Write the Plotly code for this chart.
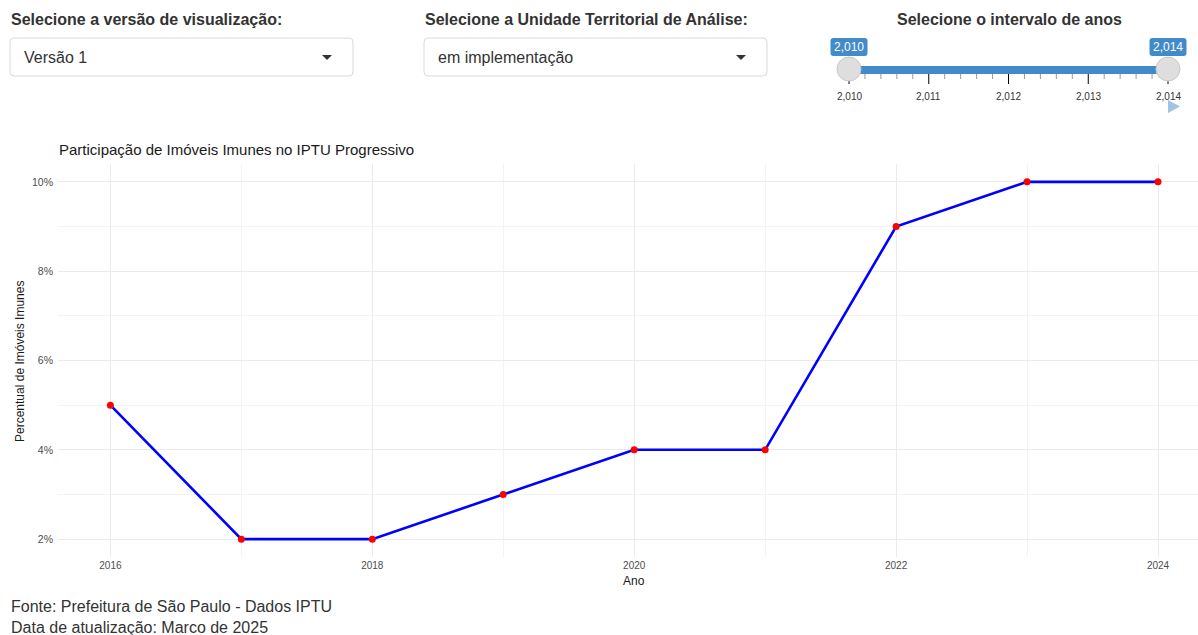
import plotly.graph_objects as go

# ---- data ----
anos = [2016, 2017, 2018, 2019, 2020, 2021, 2022, 2023, 2024]
percentual = [0.05, 0.02, 0.02, 0.03, 0.04, 0.04, 0.09, 0.10, 0.10]
x_ticks = [2016, 2018, 2020, 2022, 2024]
y_ticks = [0.02, 0.04, 0.06, 0.08, 0.10]
slider_years = [2010, 2011, 2012, 2013, 2014]
slider_labels = ["2,010", "2,011", "2,012", "2,013", "2,014"]
slider_sel = ["2,010", "2,014"]

W, H = 1198, 635
FONT = "Liberation Sans, Arial, Helvetica, sans-serif"


def px(x):
    return x / W


def py(y):
    return 1 - y / H


def rounded_rect(x0, y0, x1, y1, r):
    pts = [
        f"M{px(x0 + r)},{py(y0)}",
        f"L{px(x1 - r)},{py(y0)}",
        f"Q{px(x1)},{py(y0)} {px(x1)},{py(y0 + r)}",
        f"L{px(x1)},{py(y1 - r)}",
        f"Q{px(x1)},{py(y1)} {px(x1 - r)},{py(y1)}",
        f"L{px(x0 + r)},{py(y1)}",
        f"Q{px(x0)},{py(y1)} {px(x0)},{py(y1 - r)}",
        f"L{px(x0)},{py(y0 + r)}",
        f"Q{px(x0)},{py(y0)} {px(x0 + r)},{py(y0)}",
        "Z",
    ]
    return " ".join(pts)


def tri(points):
    s = f"M{px(points[0][0])},{py(points[0][1])}"
    for p in points[1:]:
        s += f" L{px(p[0])},{py(p[1])}"
    return s + " Z"


fig = go.Figure()
fig.add_trace(go.Scatter(
    x=anos, y=percentual, mode="lines+markers",
    line=dict(color="#0000ff", width=2.6),
    marker=dict(color="#ff0000", size=7),
    hoverinfo="x+y",
))

shapes = []
annotations = []

# --- dropdown widgets ---
for (bx0, bx1, label, value) in [
    (10, 353, "Selecione a versão de visualização:", "Versão 1"),
    (424, 767, "Selecione a Unidade Territorial de Análise:", "em implementação"),
]:
    annotations.append(dict(x=px(bx0 - 1), y=py(20), xref="paper", yref="paper",
                            text=f"<b>{label}</b>", showarrow=False, xanchor="left",
                            yanchor="middle", font=dict(family=FONT, size=16, color="#333333")))
    shapes.append(dict(type="path", xref="paper", yref="paper",
                       path=rounded_rect(bx0, 38, bx1, 76, 4),
                       line=dict(color="#d9d9d9", width=1), fillcolor="#ffffff"))
    annotations.append(dict(x=px(bx0 + 12), y=py(57), xref="paper", yref="paper",
                            text=value, showarrow=False, xanchor="left", yanchor="middle",
                            font=dict(family=FONT, size=16, color="#333333")))
    cx = bx1 - 26
    shapes.append(dict(type="path", xref="paper", yref="paper",
                       path=tri([(cx - 5, 55), (cx + 5, 55), (cx, 60)]),
                       line=dict(width=0), fillcolor="#333333"))

# --- slider widget ---
annotations.append(dict(x=px(1009), y=py(20), xref="paper", yref="paper",
                        text="<b>Selecione o intervalo de anos</b>", showarrow=False,
                        xanchor="center", yanchor="middle",
                        font=dict(family=FONT, size=16, color="#333333")))
sx0, sx1 = 849, 1168


def sx(year):
    return sx0 + (year - slider_years[0]) / (slider_years[-1] - slider_years[0]) * (sx1 - sx0)


# minor / major ticks
for i in range(0, 21):
    yr = slider_years[0] + i * 0.2
    x = sx(yr)
    major = i % 5 == 0
    shapes.append(dict(type="line", xref="paper", yref="paper",
                       x0=px(x), x1=px(x), y0=py(72), y1=py(84 if major else 79),
                       line=dict(color="#000000" if major else "#999999", width=1)))
for yr, lab in zip(slider_years, slider_labels):
    annotations.append(dict(x=px(sx(yr)), y=py(96), xref="paper", yref="paper",
                            text=lab, showarrow=False, xanchor="center", yanchor="middle",
                            font=dict(family=FONT, size=10, color="#333333")))
# track
shapes.append(dict(type="rect", xref="paper", yref="paper",
                   x0=px(sx0), x1=px(sx1), y0=py(66), y1=py(74),
                   line=dict(width=0), fillcolor="#428bca"))
# handles + value boxes
for x, lab in zip([sx0, sx1], slider_sel):
    shapes.append(dict(type="circle", xref="paper", yref="paper",
                       x0=px(x - 12), x1=px(x + 12), y0=py(57), y1=py(81),
                       line=dict(color="#c8c8c8", width=1), fillcolor="#dedede"))
    shapes.append(dict(type="path", xref="paper", yref="paper",
                       path=rounded_rect(x - 18.5, 38, x + 18.5, 56, 3),
                       line=dict(width=0), fillcolor="#428bca"))
    annotations.append(dict(x=px(x), y=py(47), xref="paper", yref="paper",
                            text=lab, showarrow=False, xanchor="center", yanchor="middle",
                            font=dict(family=FONT, size=12, color="#ffffff")))
# play button
shapes.append(dict(type="path", xref="paper", yref="paper",
                   path=tri([(1168, 100), (1180, 106.5), (1168, 113)]),
                   line=dict(width=0), fillcolor="#a3c3e3"))

# --- chart texts ---
annotations.append(dict(x=px(57), y=py(149), xref="paper", yref="paper",
                        text="Participação de Imóveis Imunes no IPTU Progressivo",
                        showarrow=False, xanchor="left", yanchor="middle",
                        font=dict(family=FONT, size=15, color="#1a1a1a")))
annotations.append(dict(x=px(20), y=py(362), xref="paper", yref="paper",
                        text="Percentual de Imóveis Imunes", textangle=-90,
                        showarrow=False, xanchor="center", yanchor="middle",
                        font=dict(family=FONT, size=12, color="#1a1a1a")))
annotations.append(dict(x=px(634), y=py(581), xref="paper", yref="paper",
                        text="Ano", showarrow=False, xanchor="center", yanchor="middle",
                        font=dict(family=FONT, size=12, color="#1a1a1a")))
annotations.append(dict(x=px(9), y=py(606), xref="paper", yref="paper",
                        text="Fonte: Prefeitura de São Paulo - Dados IPTU",
                        showarrow=False, xanchor="left", yanchor="middle",
                        font=dict(family=FONT, size=16, color="#333333")))
annotations.append(dict(x=px(9), y=py(627), xref="paper", yref="paper",
                        text="Data de atualização: Marco de 2025",
                        showarrow=False, xanchor="left", yanchor="middle",
                        font=dict(family=FONT, size=16, color="#333333")))

fig.update_layout(
    width=W, height=H,
    margin=dict(l=0, r=0, t=0, b=0, pad=0),
    paper_bgcolor="#ffffff", plot_bgcolor="#ffffff",
    showlegend=False,
    font=dict(family=FONT),
    shapes=shapes, annotations=annotations,
    xaxis=dict(
        domain=[58 / W, 1.0],
        range=[2015.6, 2016 + (1198 - 110) / 131.0],
        tickvals=x_ticks, ticktext=[str(v) for v in x_ticks],
        showgrid=True, gridcolor="#ebebeb", gridwidth=1,
        minor=dict(dtick=1, tick0=2016, showgrid=True, gridcolor="#f3f3f3", gridwidth=1),
        zeroline=False, showline=False, ticks="",
        ticklabelstandoff=1,
        tickfont=dict(family=FONT, size=10, color="#4d4d4d"),
    ),
    yaxis=dict(
        domain=[1 - 557 / H, 1 - 164 / H],
        range=[0.016, 0.104],
        tickvals=y_ticks, tickformat=".0%",
        showgrid=True, gridcolor="#ebebeb", gridwidth=1,
        minor=dict(dtick=0.01, tick0=0.0, showgrid=True, gridcolor="#f3f3f3", gridwidth=1),
        zeroline=False, showline=False, ticks="",
        ticklabelstandoff=4,
        tickfont=dict(family=FONT, size=10.5, color="#4d4d4d"),
    ),
)

fig.write_html(
    "out.html",
    config={"displayModeBar": False},
    post_script="document.body.style.margin='0px';document.body.style.overflow='hidden';",
)
